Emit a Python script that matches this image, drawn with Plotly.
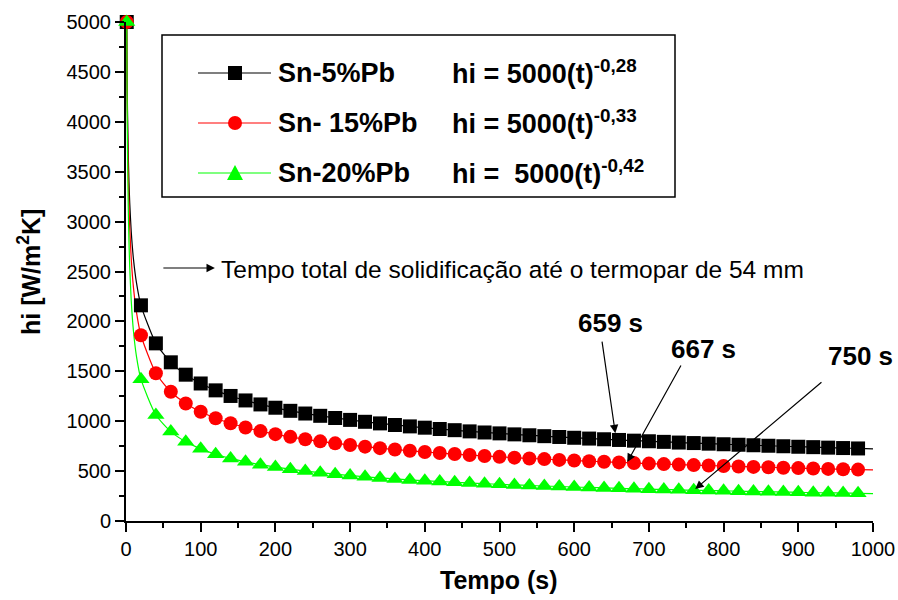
import plotly.graph_objects as go

# ---------------- data ----------------
t_markers = [1] + list(range(20, 1000, 20))
hi_sn5 = [5000, 2161, 1780, 1590, 1466, 1378, 1309, 1253, 1208, 1168, 1135, 1104, 1077, 1054, 1032,
          1013, 994, 978, 962, 948, 935, 922, 910, 898, 887, 878, 868, 859, 850, 842, 834, 826, 819,
          812, 805, 799, 793, 786, 781, 775, 769, 764, 759, 754, 749, 744, 740, 735, 731, 727]
hi_sn15 = [5000, 1861, 1480, 1295, 1177, 1094, 1030, 979, 937, 901, 870, 843, 819, 798, 778,
           761, 745, 730, 717, 704, 692, 681, 671, 661, 652, 643, 635, 627, 620, 612, 606, 599, 593,
           587, 581, 575, 570, 565, 560, 556, 551, 546, 542, 538, 534, 530, 526, 522, 519, 515]
hi_sn20 = [5000, 1421, 1062, 896, 794, 723, 669, 627, 593, 564, 540, 519, 500, 484, 469,
           456, 443, 432, 422, 412, 404, 396, 388, 381, 374, 367, 361, 356, 350, 346, 340, 336, 331,
           327, 323, 319, 316, 312, 308, 305, 302, 299, 296, 293, 290, 287, 284, 282, 280, 277]

# fitted curves (line only)
t_curve_head = [1, 1.5, 2, 3, 4, 5, 7, 10, 14]
curve_sn5_head = [5000, 4463, 4117, 3676, 3392, 3187, 2900, 2624, 2388]
curve_sn15_head = [5000, 4374, 3978, 3480, 3164, 2940, 2631, 2339, 2093]
curve_sn20_head = [5000, 4217, 3737, 3152, 2794, 2543, 2208, 1901, 1650]
t_curve_end = 1000
curve_sn5_end = 723
curve_sn15_end = 512
curve_sn20_end = 275

series_names = ["Sn-5%Pb", "Sn- 15%Pb", "Sn-20%Pb"]
equations = ["hi = 5000(t)<sup>-0,28</sup>", "hi = 5000(t)<sup>-0,33</sup>",
             "hi =\u00a0\u00a05000(t)<sup>-0,42</sup>"]
colors = ["#000000", "#ff0000", "#00ff00"]
symbols = ["square", "circle", "triangle-up"]

x_ticks = list(range(0, 1001, 100))
y_ticks = list(range(0, 5001, 500))

# ---------------- figure ----------------
FONT = "Liberation Sans, Arial, sans-serif"
fig = go.Figure()

marker_sets = [hi_sn5, hi_sn15, hi_sn20]
heads = [curve_sn5_head, curve_sn15_head, curve_sn20_head]
ends = [curve_sn5_end, curve_sn15_end, curve_sn20_end]
msizes = [14, 14, 15]

for i in range(3):
    cx = t_curve_head + t_markers[1:] + [t_curve_end]
    cy = heads[i] + marker_sets[i][1:] + [ends[i]]
    fig.add_trace(go.Scatter(x=cx, y=cy, mode="lines", line=dict(color=colors[i], width=1.2, shape="spline", smoothing=0.6),
                             showlegend=False, hoverinfo="skip", cliponaxis=False))
for i in range(3):
    fig.add_trace(go.Scatter(x=t_markers, y=marker_sets[i], mode="markers",
                             marker=dict(symbol=symbols[i], color=colors[i], size=msizes[i], line=dict(width=0)),
                             showlegend=False, cliponaxis=False))

# plot area pixel mapping helpers (for legend box, paper coordinates)
L, R, T, B = 126, 873, 22, 521
W, H = R - L, B - T
def px(x):
    return (x - L) / W
def py(y):
    return (B - y) / H

shapes = []
annotations = []
# legend box
shapes.append(dict(type="rect", xref="paper", yref="paper", x0=px(162), x1=px(675), y0=py(197), y1=py(35),
                   line=dict(color="black", width=1.5), fillcolor="white", layer="above"))
rows = [73, 123, 173]
for i, ry in enumerate(rows):
    shapes.append(dict(type="line", xref="paper", yref="paper", x0=px(198), x1=px(271), y0=py(ry), y1=py(ry),
                       line=dict(color=colors[i], width=1.2), layer="above"))
    cxp, hs = 235, 7
    if symbols[i] == "square":
        shapes.append(dict(type="rect", xref="paper", yref="paper", x0=px(cxp - hs), x1=px(cxp + hs),
                           y0=py(ry + hs), y1=py(ry - hs), fillcolor=colors[i], line=dict(width=0), layer="above"))
    elif symbols[i] == "circle":
        shapes.append(dict(type="circle", xref="paper", yref="paper", x0=px(cxp - hs), x1=px(cxp + hs),
                           y0=py(ry + hs), y1=py(ry - hs), fillcolor=colors[i], line=dict(width=0), layer="above"))
    else:
        path = "M {} {} L {} {} L {} {} Z".format(px(cxp - 8), py(ry + 7), px(cxp + 8), py(ry + 7), px(cxp), py(ry - 8))
        shapes.append(dict(type="path", xref="paper", yref="paper", path=path, fillcolor=colors[i],
                           line=dict(width=0), layer="above"))
    annotations.append(dict(xref="paper", yref="paper", x=px(276), y=py(ry), text=series_names[i],
                            xanchor="left", yanchor="middle", showarrow=False,
                            font=dict(family=FONT, size=27, color="black", weight="bold")))
    annotations.append(dict(xref="paper", yref="paper", x=px(450), y=py(ry - 1), text=equations[i],
                            xanchor="left", yanchor="middle", showarrow=False,
                            font=dict(family=FONT, size=27, color="black", weight="bold")))

# "Tempo total..." arrow + text
annotations.append(dict(x=119, y=2535, ax=48, ay=2535, xref="x", yref="y", axref="x", ayref="y",
                        text="", showarrow=True, arrowhead=2, arrowsize=1.4, arrowwidth=1.2, arrowcolor="black"))
annotations.append(dict(x=125, y=2520, xref="x", yref="y", text="Tempo total de solidificação até o termopar de 54 mm",
                        xanchor="left", yanchor="middle", showarrow=False,
                        font=dict(family=FONT, size=24.5, color="black")))

# time labels with arrows
labels = [("659 s", 649, 1980, 655, 880, 637, 1813),
          ("667 s", 773, 1720, 671, 590, 744, 1573),
          ("750 s", 983, 1650, 762, 320, 933, 1403)]
for txt, lx, ly, tx, ty, ax_, ay_ in labels:
    annotations.append(dict(x=tx, y=ty, ax=ax_, ay=ay_, xref="x", yref="y", axref="x", ayref="y",
                            text="", showarrow=True, arrowhead=2, arrowsize=1.4, arrowwidth=1.2, arrowcolor="black"))
    annotations.append(dict(x=lx, y=ly, xref="x", yref="y", text=txt, showarrow=False,
                            xanchor="center", yanchor="middle",
                            font=dict(family=FONT, size=26, color="black", weight="bold")))

# axis titles
annotations.append(dict(xref="paper", yref="paper", x=px(499), y=py(580), text="Tempo (s)", showarrow=False,
                        xanchor="center", yanchor="middle",
                        font=dict(family=FONT, size=25, color="black", weight="bold")))
annotations.append(dict(xref="paper", yref="paper", x=px(29), y=py(272), text="hi [W/m<sup>2</sup>K]",
                        showarrow=False, textangle=-90, xanchor="center", yanchor="middle",
                        font=dict(family=FONT, size=25, color="black", weight="bold")))

fig.update_layout(
    width=898, height=600,
    margin=dict(l=L, r=898 - R, t=T, b=600 - B),
    paper_bgcolor="white", plot_bgcolor="white",
    shapes=shapes, annotations=annotations,
    showlegend=False,
    xaxis=dict(range=[0, 1000], tickvals=x_ticks, ticktext=[str(v) for v in x_ticks], automargin=False,
               showgrid=False, zeroline=False, showline=True, linecolor="black", linewidth=2,
               ticks="outside", ticklen=9, tickwidth=1.5, tickcolor="black",
               tickfont=dict(family=FONT, size=20, color="black"),
               minor=dict(dtick=50, ticks="outside", ticklen=5, tickwidth=1.5, tickcolor="black", showgrid=False)),
    yaxis=dict(range=[0, 5000], tickvals=y_ticks, ticktext=[str(v) for v in y_ticks], automargin=False,
               showgrid=False, zeroline=False, showline=True, linecolor="black", linewidth=2,
               ticks="outside", ticklen=9, tickwidth=1.5, tickcolor="black",
               tickfont=dict(family=FONT, size=20, color="black"),
               minor=dict(dtick=250, ticks="outside", ticklen=5, tickwidth=1.5, tickcolor="black", showgrid=False)),
)

fig.write_html("out.html", config={"displayModeBar": False},
               post_script="document.body.style.margin='0';document.body.style.overflow='hidden';")
